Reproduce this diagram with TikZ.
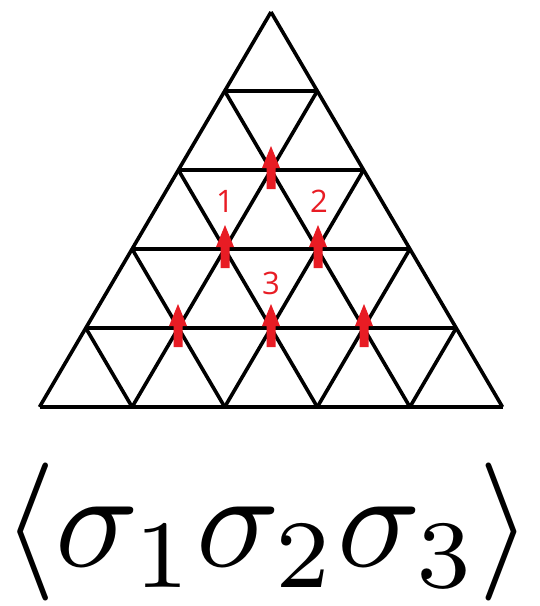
\documentclass[tikz,border=0pt]{standalone}
\usepackage{fontspec}
\newfontfamily\labelfont{Open Sans}
\definecolor{spinred}{RGB}{232,28,36}
\tikzset{
  gridline/.style={line width=3.6pt, line join=miter, line cap=butt},
  spinarrow/.style={fill=spinred, draw=none},
  spinlabel/.style={text=spinred, font=\labelfont\fontsize{31}{33}\selectfont, inner sep=0pt},
}
\begin{document}
\begin{tikzpicture}[x=1pt,y=-1pt]
\useasboundingbox (0,0) rectangle (539,606);
\def\ax{271}\def\ay{12}\def\dx{46.3}\def\dy{79}
% horizontal lines
\foreach \k in {1,...,5}{
  \draw[gridline] ({\ax-\k*\dx},{\ay+\k*\dy}) -- ({\ax+\k*\dx},{\ay+\k*\dy});
}
% slanted lines
\foreach \k in {0,...,4}{
  \draw[gridline] ({\ax+\k*\dx},{\ay+\k*\dy}) -- ({\ax+\k*\dx-(5-\k)*\dx},{\ay+5*\dy});
  \draw[gridline] ({\ax-\k*\dx},{\ay+\k*\dy}) -- ({\ax-\k*\dx+(5-\k)*\dx},{\ay+5*\dy});
}
% arrows at vertices
\foreach \px/\py in {271/170, 225/249, 318/249, 178/328, 271/328, 364/328}{
  \fill[spinarrow] (\px-4.5,\py+19) -- (\px+4.5,\py+19) -- (\px+4.5,\py-2) -- (\px+9,\py-2)
     -- (\px,\py-24) -- (\px-9,\py-2) -- (\px-4.5,\py-2) -- cycle;
}
\node[spinlabel] (l1) at (225,201) {1};
\node[spinlabel] (l2) at (319,201) {2};
\node[spinlabel] (l3) at (271,283) {3};
\node[scale=13.8, inner sep=0pt] (formula) at (267,532) {$\langle\sigma_1\sigma_2\sigma_3\rangle$};
\end{tikzpicture}
\end{document}
